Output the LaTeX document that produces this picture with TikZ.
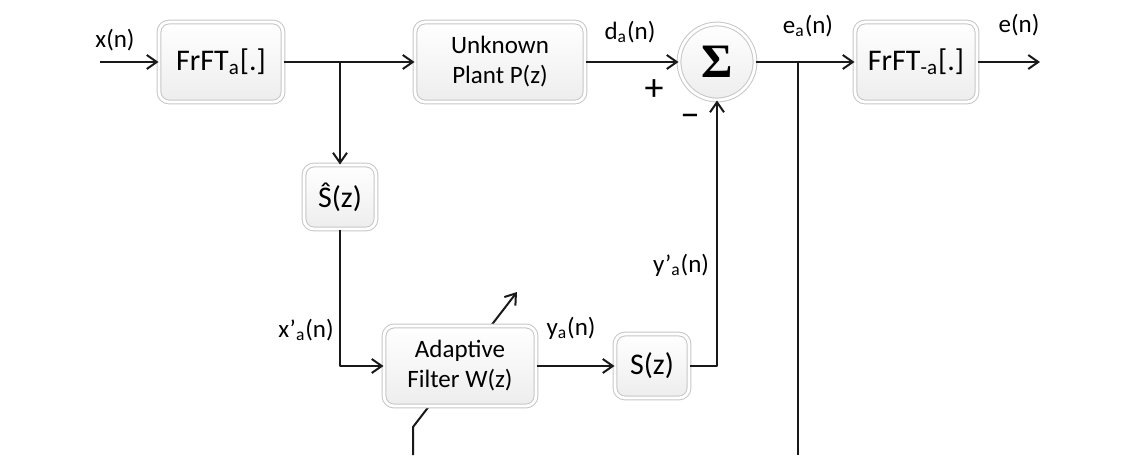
\documentclass[tikz,border=0pt]{standalone}
\usepackage{fontspec}
\setmainfont{Carlito}
\newfontfamily\sigfont{Liberation Serif}
\usetikzlibrary{arrows.meta}
\begin{document}
\begin{tikzpicture}[x=0.5pt,y=-0.5pt,>={Straight Barb[length=5pt,width=7pt]},line join=round,
	sig/.style={draw=black!90,line width=1pt},
	blk/.style={draw=gray!45,line width=0.5pt,double=white,double distance=1.4pt,rounded corners=5pt,
		top color=white,bottom color=gray!14,align=center,inner sep=1pt},
	lbl/.style={font=\fontsize{12.5}{14}\selectfont}]
	\useasboundingbox (0,0) rectangle (1145,455);
	% adaptation arrow behind the filter
	\coordinate (adb) at (413,455);
	\coordinate (adk) at (413,427);
	\coordinate (adt) at (517,292);
	\draw[sig,->] (adb)--(adk)--(adt);
	% blocks
	\node[blk,minimum width=62pt,minimum height=40pt,font=\fontsize{15}{17}\selectfont] (frft) at (221,62) {FrFT\textsubscript{a}[.]};
	\node[blk,minimum width=85pt,minimum height=40pt,font=\fontsize{12.5}{15}\selectfont] (plant) at (500,62) {Unknown\\Plant P(z)};
	\node[blk,circle,rounded corners=0pt,minimum size=38pt,inner sep=0pt] (sum) at (717,62) {\sigfont\bfseries\fontsize{24}{24}\selectfont Σ};
	\node[blk,minimum width=61pt,minimum height=40pt,font=\fontsize{15}{17}\selectfont] (ifrft) at (916,62) {FrFT\textsubscript{-a}[.]};
	\node[blk,minimum width=36pt,minimum height=32pt,font=\fontsize{15}{17}\selectfont] (shat) at (340,197) {\^{S}(z)};
	\node[blk,minimum width=76pt,minimum height=40pt,font=\fontsize{12.5}{15}\selectfont] (filt) at (460,366) {Adaptive\\Filter W(z)};
	\node[blk,minimum width=37pt,minimum height=32pt,font=\fontsize{15}{17}\selectfont] (sz) at (652,366) {S(z)};
	% connectors
	\coordinate (in) at (100,62);
	\coordinate (out) at (1040,62);
	\coordinate (br1) at (340,62);
	\coordinate (br2) at (798,62);
	\coordinate (err) at (798,455);
	\draw[sig,->] (in)--(frft);
	\draw[sig,->] (frft)--(plant);
	\draw[sig,->] (br1)--(shat);
	\draw[sig,->] (plant)--(sum);
	\draw[sig,->] (sum)--(ifrft);
	\draw[sig] (br2)--(err);
	\draw[sig,->] (ifrft)--(out);
	\draw[sig,->] (shat)|-(filt);
	\draw[sig,->] (filt)--(sz);
	\draw[sig,->] (sz)-|(sum);
	% labels
	\node[lbl] (lx) at (115,40) {x(n)};
	\node[lbl] (ld) at (630,32) {d\textsubscript{a}(n)};
	\node[lbl] (lea) at (808,26) {e\textsubscript{a}(n)};
	\node[lbl] (le) at (1019,25) {e(n)};
	\node[font=\fontsize{19}{20}\selectfont] (lplus) at (654,90) {+};
	\node[font=\fontsize{19}{20}\selectfont] (lminus) at (690,121) {−};
	\node[lbl] (lyp) at (681,265) {y’\textsubscript{a}(n)};
	\node[lbl] (lxp) at (306,330) {x’\textsubscript{a}(n)};
	\node[lbl] (ly) at (571,328) {y\textsubscript{a}(n)};
\end{tikzpicture}
\end{document}
